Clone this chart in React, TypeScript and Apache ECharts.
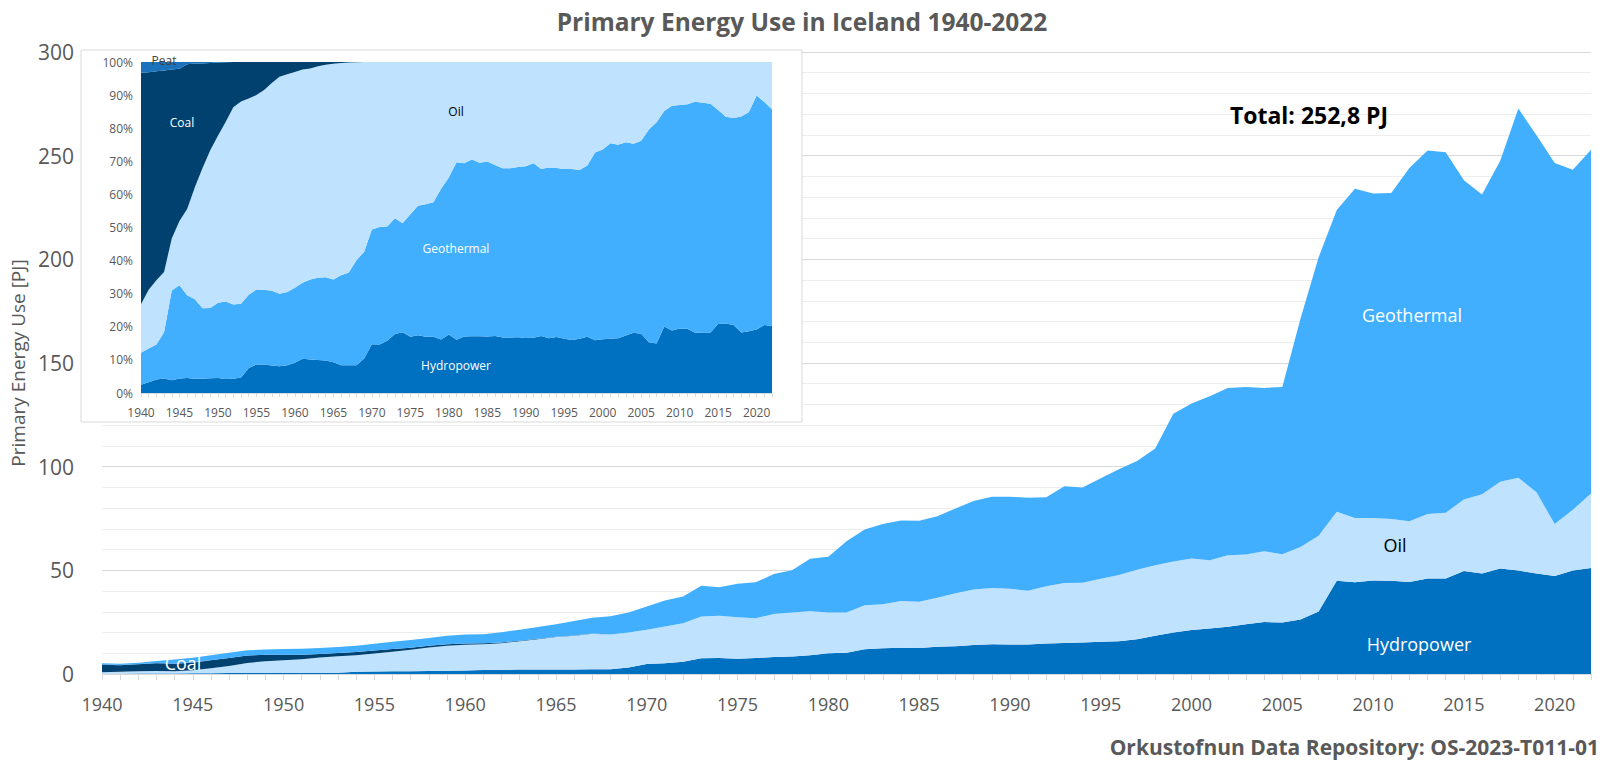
import React, { useEffect, useRef } from "react";
import * as echarts from "echarts";

const years = [
  "1940","1941","1942","1943","1944","1945","1946","1947","1948","1949",
  "1950","1951","1952","1953","1954","1955","1956","1957","1958","1959",
  "1960","1961","1962","1963","1964","1965","1966","1967","1968","1969",
  "1970","1971","1972","1973","1974","1975","1976","1977","1978","1979",
  "1980","1981","1982","1983","1984","1985","1986","1987","1988","1989",
  "1990","1991","1992","1993","1994","1995","1996","1997","1998","1999",
  "2000","2001","2002","2003","2004","2005","2006","2007","2008","2009",
  "2010","2011","2012","2013","2014","2015","2016","2017","2018","2019",
  "2020","2021","2022",
];

// Primary energy use by source [PJ]
const hydropower = [
  0.13, 0.16, 0.22, 0.27, 0.27, 0.34, 0.41, 0.44, 0.49, 0.53,
  0.54, 0.52, 0.54, 0.61, 1.03, 1.26, 1.33, 1.36, 1.41, 1.55,
  1.73, 1.98, 2.03, 2.14, 2.22, 2.23, 2.14, 2.28, 2.34, 3.08,
  4.8, 5.2, 5.9, 7.6, 7.7, 7.4, 7.7, 8.2, 8.5, 9.0,
  10.0, 10.3, 11.9, 12.4, 12.7, 12.6, 13.1, 13.4, 14.0, 14.4,
  14.2, 14.2, 14.7, 15.0, 15.2, 15.5, 15.8, 16.8, 18.5, 20.0,
  21.2, 22.0, 22.8, 24.0, 25.1, 24.8, 26.3, 30.1, 45.0, 44.2,
  45.1, 45.0, 44.4, 46.1, 46.1, 49.7, 48.5, 50.9, 49.9, 48.5,
  47.3, 49.9, 51.1,
];

const oil = [
  0.76, 0.87, 1.05, 1.13, 1.10, 1.52, 2.34, 3.45, 4.83, 5.63,
  6.06, 6.61, 7.45, 7.94, 8.06, 8.58, 9.36, 10.30, 11.40, 12.11,
  12.39, 12.36, 12.80, 13.67, 14.57, 15.65, 16.35, 17.18, 16.68, 16.96,
  16.5, 17.7, 18.6, 20.1, 20.4, 20.0, 19.2, 20.7, 21.2, 21.3,
  19.7, 19.4, 21.3, 21.3, 22.5, 22.2, 23.7, 25.6, 26.8, 27.1,
  26.9, 26.0, 27.6, 28.9, 28.8, 30.5, 31.9, 33.5, 34.0, 34.3,
  34.5, 32.9, 34.5, 33.6, 34.1, 32.9, 34.9, 36.6, 33.2, 31.0,
  30.1, 29.7, 29.3, 31.1, 31.7, 34.5, 38.2, 41.8, 44.8, 39.2,
  25.0, 29.3, 36.0,
];

const geothermal = [
  0.50, 0.50, 0.57, 0.87, 1.90, 2.20, 2.25, 2.45, 2.43, 2.50,
  2.73, 2.85, 2.80, 2.90, 3.00, 3.30, 3.50, 3.70, 3.81, 4.07,
  4.31, 4.42, 4.86, 5.31, 5.72, 6.00, 6.94, 7.59, 8.84, 9.56,
  11.3, 12.6, 12.9, 14.9, 13.8, 16.1, 17.3, 19.3, 20.3, 25.3,
  26.8, 34.3, 36.5, 38.7, 38.8, 39.1, 39.3, 40.8, 42.6, 44.0,
  44.4, 44.8, 43.0, 46.7, 46.0, 48.4, 51.0, 52.4, 56.3, 71.2,
  74.8, 79.1, 80.7, 80.8, 78.8, 80.7, 110.1, 134.3, 145.6, 158.8,
  156.5, 157.3, 170.3, 175.3, 173.9, 154.0, 144.6, 154.8, 178.0, 172.1,
  174.2, 164.0, 165.7,
];

const coal = [
  3.63, 3.22, 3.41, 3.78, 3.57, 3.59, 3.94, 3.81, 3.60, 3.11,
  2.65, 2.20, 1.71, 1.55, 1.50, 1.46, 1.31, 1.04, 0.78, 0.68,
  0.57, 0.44, 0.40, 0.28, 0.18, 0.12, 0.08, 0.05, 0.03, 0.01,
  0, 0, 0, 0, 0, 0, 0, 0, 0, 0,
  0, 0, 0, 0, 0, 0, 0, 0, 0, 0,
  0, 0, 0, 0, 0, 0, 0, 0, 0, 0,
  0, 0, 0, 0, 0, 0, 0, 0, 0, 0,
  0, 0, 0, 0, 0, 0, 0, 0, 0, 0,
  0, 0, 0,
];

const peat = [
  0.17, 0.15, 0.15, 0.16, 0.16, 0.16, 0.06, 0.05, 0.05, 0.04,
  0.02, 0.01, 0, 0, 0, 0, 0, 0, 0, 0,
  0, 0, 0, 0, 0, 0, 0, 0, 0, 0,
  0, 0, 0, 0, 0, 0, 0, 0, 0, 0,
  0, 0, 0, 0, 0, 0, 0, 0, 0, 0,
  0, 0, 0, 0, 0, 0, 0, 0, 0, 0,
  0, 0, 0, 0, 0, 0, 0, 0, 0, 0,
  0, 0, 0, 0, 0, 0, 0, 0, 0, 0,
  0, 0, 0,
];

const yTicksMain = [0, 50, 100, 150, 200, 250, 300];

const C_HYDRO = "#0070C0";
const C_OIL = "#BFE2FE";
const C_GEO = "#41AFFE";
const C_COAL = "#00416F";
const C_PEAT = "#1B72BC";
const GREY = "#595959";
const FONT = "Open Sans";

const totals = years.map((_, i) => hydropower[i] + oil[i] + geothermal[i] + coal[i] + peat[i]);
const pct = (arr: number[]) => arr.map((v, i) => (v / totals[i]) * 100);

function area(name: string, data: number[], color: string, stack: string, axis: number, z: number) {
  return {
    name,
    type: "line",
    stack,
    xAxisIndex: axis,
    yAxisIndex: axis,
    data,
    symbol: "none",
    showSymbol: false,
    lineStyle: { width: 0 },
    areaStyle: { color, opacity: 1 },
    itemStyle: { color },
    z,
    silent: true,
  };
}

function txt(text: string, x: number, y: number, size: number, color: string, bold = false, align = "center") {
  return {
    type: "text",
    x,
    y,
    z: 100,
    style: {
      text,
      fill: color,
      font: `${bold ? "bold " : ""}${size}px "${FONT}"`,
      textAlign: align,
      textVerticalAlign: "middle",
    },
  };
}

export default function App() {
  const ref = useRef<HTMLDivElement>(null);
  useEffect(() => {
    if (!ref.current) return;
    const chart = echarts.init(ref.current, undefined, { renderer: "svg" });
    const option = {
      animation: false,
      backgroundColor: "#FFFFFF",
      textStyle: { fontFamily: FONT },
      grid: [
        { left: 93, right: 32, top: 52, bottom: 92 },
        { left: 141, right: 851, top: 62, bottom: 373 },
      ],
      xAxis: [
        {
          gridIndex: 0,
          type: "category",
          data: years,
          boundaryGap: false,
          axisLine: { lineStyle: { color: "#D9D9D9", width: 1 } },
          axisTick: { interval: 0, length: 6, lineStyle: { color: "#D9D9D9" } },
          axisLabel: { interval: 4, color: GREY, fontSize: 18, margin: 21, fontFamily: FONT },
          splitLine: { show: false },
        },
        {
          gridIndex: 1,
          type: "category",
          data: years,
          boundaryGap: false,
          z: 60,
          axisLine: { lineStyle: { color: "#D9D9D9", width: 1 } },
          axisTick: { interval: 0, length: 4, lineStyle: { color: "#D9D9D9" } },
          axisLabel: { interval: 4, color: GREY, fontSize: 12, margin: 13, fontFamily: FONT },
          splitLine: { show: false },
        },
      ],
      yAxis: [
        {
          gridIndex: 0,
          type: "value",
          min: yTicksMain[0],
          max: yTicksMain[yTicksMain.length - 1],
          interval: 50,
          axisLine: { show: false },
          axisTick: { show: false },
          axisLabel: { color: GREY, fontSize: 21, margin: 28, fontFamily: FONT },
          splitLine: { lineStyle: { color: "#D9D9D9" } },
          minorTick: { show: false, splitNumber: 5 },
          minorSplitLine: { show: true, lineStyle: { color: "#EDEDED" } },
          name: "Primary Energy Use [PJ]",
          nameLocation: "middle",
          nameGap: 75,
          nameTextStyle: { color: GREY, fontSize: 19, fontFamily: FONT },
        },
        {
          gridIndex: 1,
          type: "value",
          min: 0,
          max: 100,
          interval: 10,
          z: 60,
          axisLine: { show: false },
          axisTick: { show: false },
          axisLabel: { formatter: "{value}%", color: GREY, fontSize: 12, margin: 8, fontFamily: FONT },
          splitLine: { show: false },
        },
      ],
      series: [
        area("Hydropower", hydropower, C_HYDRO, "main", 0, 2),
        area("Oil", oil, C_OIL, "main", 0, 2),
        area("Coal", coal, C_COAL, "main", 0, 2),
        area("Peat", peat, C_PEAT, "main", 0, 2),
        area("Geothermal", geothermal, C_GEO, "main", 0, 2),
        area("Hydropower %", pct(hydropower), C_HYDRO, "inset", 1, 60),
        area("Geothermal %", pct(geothermal), C_GEO, "inset", 1, 60),
        area("Oil %", pct(oil), C_OIL, "inset", 1, 60),
        area("Coal %", pct(coal), C_COAL, "inset", 1, 60),
        area("Peat %", pct(peat), C_PEAT, "inset", 1, 60),
      ],
      graphic: [
        {
          type: "rect",
          z: 50,
          shape: { x: 81, y: 50, width: 721, height: 372 },
          style: { fill: "#FFFFFF", stroke: "#D9D9D9", lineWidth: 1 },
        },
        txt("Primary Energy Use in Iceland 1940-2022", 802, 21, 24.5, GREY, true),
        txt("Orkustofnun Data Repository: OS-2023-T011-01", 1599, 747, 21, GREY, true, "right"),
        txt("Total: 252,8 PJ", 1309, 115, 23, "#000000", true),
        txt("Geothermal", 1412, 315, 18, "#FFFFFF"),
        txt("Oil", 1395, 545, 18, "#000000"),
        txt("Hydropower", 1419, 644, 18, "#FFFFFF"),
        txt("Coal", 183, 663, 18, "#FFFFFF"),
        txt("Coal", 182, 122, 12, "#FFFFFF"),
        txt("Oil", 456, 111, 12, "#000000"),
        txt("Geothermal", 456, 248, 12, "#FFFFFF"),
        txt("Hydropower", 456, 365, 12, "#FFFFFF"),
        txt("Peat", 164, 60, 12, "#404040"),
      ],
    };
    chart.setOption(option as any);
    return () => chart.dispose();
  }, []);
  return (
    <div
      ref={ref}
      style={{ position: "fixed", left: 0, top: 0, width: 1623, height: 766, background: "#fff" }}
    />
  );
}
